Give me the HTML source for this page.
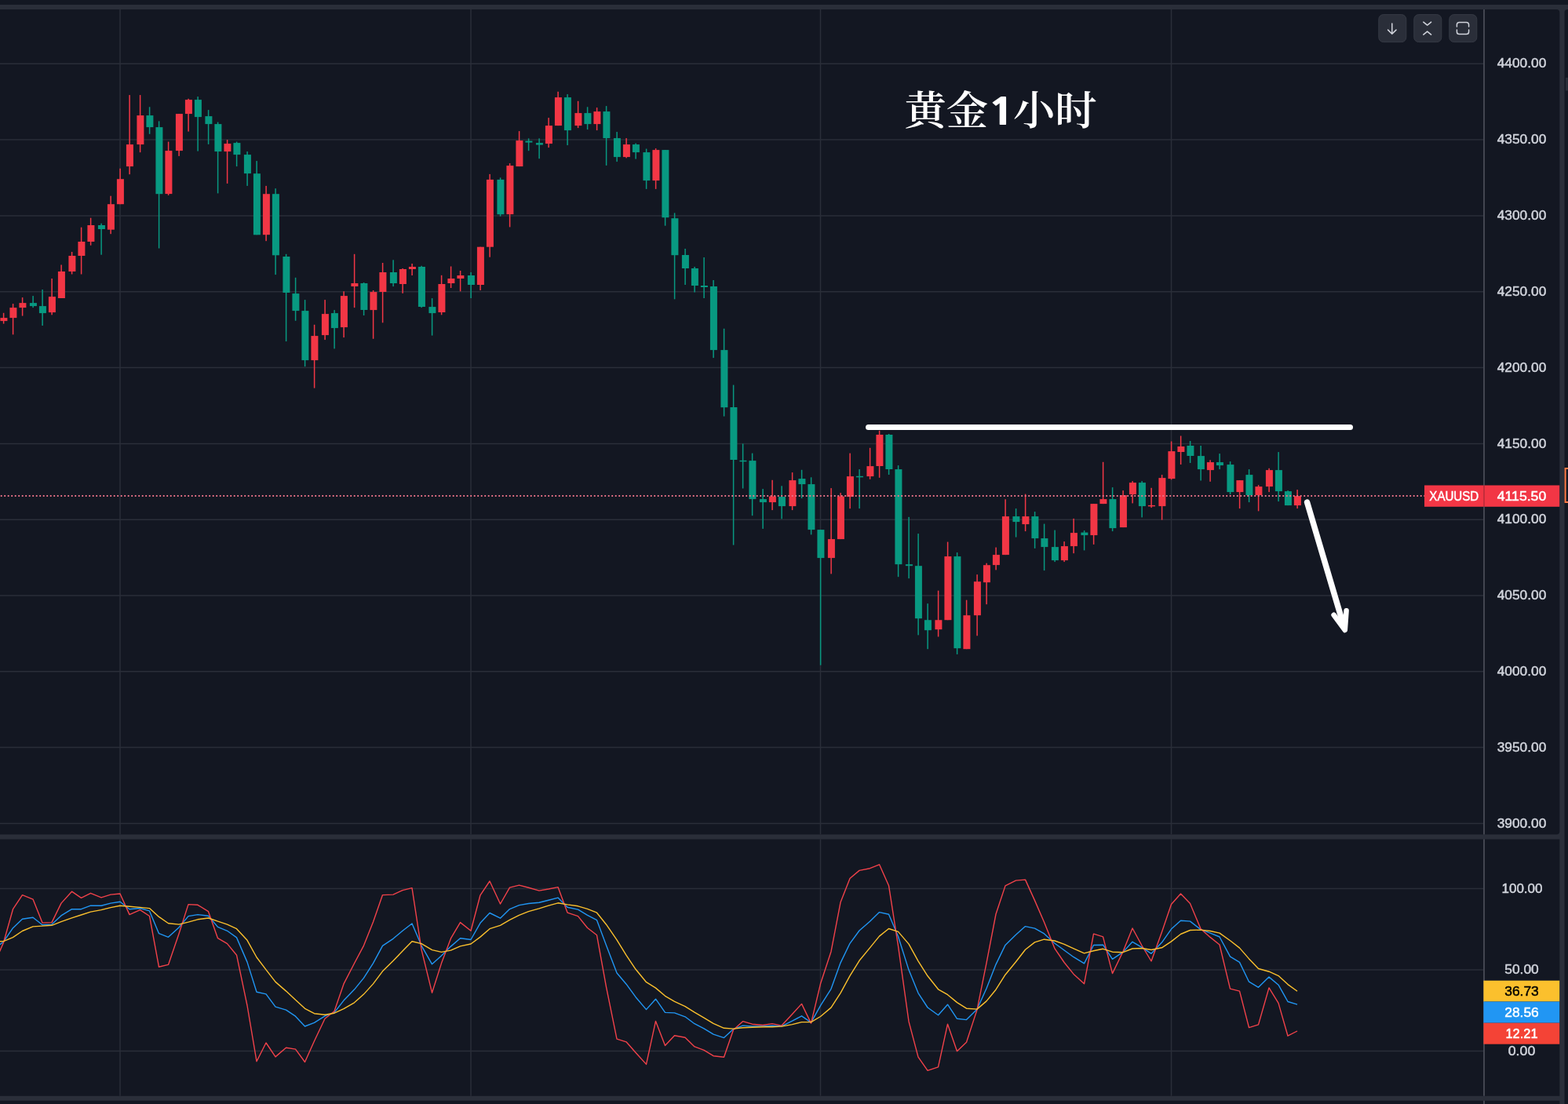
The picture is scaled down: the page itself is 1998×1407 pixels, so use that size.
<!DOCTYPE html>
<html lang="zh-CN"><head><meta charset="utf-8"><title>黄金1小时 XAUUSD</title>
<style>
html,body{margin:0;padding:0;background:#131722;overflow:hidden}
body{width:1998px;height:1407px;position:relative}
#chart{position:absolute;left:0;top:0;width:1998px;height:1407px;overflow:hidden;background:#131722}
svg{display:block;position:absolute;left:-20px;top:-20px;filter:blur(0.55px)}
.ax{font-family:"Liberation Sans",sans-serif;font-size:15.8px;fill:#d1d4dc;stroke:#d1d4dc;stroke-width:.45px;text-anchor:middle}
.w{fill:#fff;stroke:#fff}.k{fill:#000;stroke:#000}
.ttl{font-family:"Liberation Sans","Noto Serif CJK SC",serif;font-weight:600;font-size:53.33px;fill:#fff}
</style></head><body><div id="chart">
<svg width="2038" height="1447" viewBox="-20 -20 2038 1447">
<rect x="-20" y="-20" width="2038" height="1447" fill="#2a2e39"/>
<rect x="-20" y="-20" width="2038" height="26" fill="#131722"/>
<rect x="-30" y="12" width="2017.3" height="1051.6" rx="4" fill="#131722"/>
<rect x="-30" y="1069.6" width="2017.3" height="327.2" fill="#131722"/>
<rect x="-30" y="1402.8" width="2017.3" height="30" fill="#131722"/>
<rect x="1993.5" y="12" width="40" height="1430" rx="4" fill="#131722"/>
<g stroke="#2a2e39" stroke-width="1.5" fill="none">
<path d="M153.0 12V1063.6M153.0 1069.6V1396.8"/>
<path d="M600.0 12V1063.6M600.0 1069.6V1396.8"/>
<path d="M1045.5 12V1063.6M1045.5 1069.6V1396.8"/>
<path d="M1492.5 12V1063.6M1492.5 1069.6V1396.8"/>
<path d="M-5 81.3H1890"/>
<path d="M-5 178.1H1890"/>
<path d="M-5 274.9H1890"/>
<path d="M-5 371.7H1890"/>
<path d="M-5 468.5H1890"/>
<path d="M-5 565.4H1890"/>
<path d="M-5 662.2H1890"/>
<path d="M-5 759.0H1890"/>
<path d="M-5 855.8H1890"/>
<path d="M-5 952.6H1890"/>
<path d="M-5 1049.4H1890"/>
<path d="M-5 1132.4H1890"/>
<path d="M-5 1235.9H1890"/>
<path d="M-5 1339.5H1890"/>
</g>
<path d="M1891 12V1063.6M1891 1069.6V1396.8M1891 1402.8V1415" stroke="#434651" stroke-width="2" fill="none"/>
<g fill="#f23645">
<rect x="3.85" y="398.8" width="1.5" height="13.8"/>
<rect x="0.4" y="405.1" width="9.0" height="4.0"/>
<rect x="15.85" y="387.1" width="1.5" height="39.3"/>
<rect x="12.4" y="392.1" width="9.0" height="13.0"/>
<rect x="27.85" y="379.1" width="1.5" height="23.5"/>
<rect x="24.4" y="386.1" width="9.0" height="6.0"/>
<rect x="65.35" y="355.0" width="1.5" height="46.3"/>
<rect x="61.9" y="378.1" width="9.0" height="20.0"/>
<rect x="77.35" y="337.5" width="1.5" height="42.5"/>
<rect x="73.9" y="346.0" width="9.0" height="34.0"/>
<rect x="90.85" y="321.0" width="1.5" height="28.5"/>
<rect x="87.4" y="326.0" width="9.0" height="20.0"/>
<rect x="102.85" y="289.7" width="1.5" height="59.8"/>
<rect x="99.4" y="308.0" width="9.0" height="18.0"/>
<rect x="114.85" y="277.7" width="1.5" height="35.0"/>
<rect x="111.4" y="287.0" width="9.0" height="21.0"/>
<rect x="140.35" y="249.7" width="1.5" height="48.5"/>
<rect x="136.9" y="260.2" width="9.0" height="32.5"/>
<rect x="152.35" y="214.7" width="1.5" height="45.5"/>
<rect x="148.9" y="228.2" width="9.0" height="32.0"/>
<rect x="164.35" y="121.1" width="1.5" height="101.1"/>
<rect x="160.9" y="184.1" width="9.0" height="28.0"/>
<rect x="177.85" y="121.1" width="1.5" height="73.1"/>
<rect x="174.4" y="147.1" width="9.0" height="37.0"/>
<rect x="213.85" y="180.6" width="1.5" height="68.3"/>
<rect x="210.4" y="192.1" width="9.0" height="55.0"/>
<rect x="227.35" y="145.1" width="1.5" height="53.8"/>
<rect x="223.9" y="145.1" width="9.0" height="47.0"/>
<rect x="239.35" y="125.8" width="1.5" height="41.8"/>
<rect x="235.9" y="127.1" width="9.0" height="18.0"/>
<rect x="288.85" y="178.1" width="1.5" height="55.8"/>
<rect x="285.4" y="183.1" width="9.0" height="10.0"/>
<rect x="338.35" y="236.9" width="1.5" height="70.3"/>
<rect x="334.9" y="247.2" width="9.0" height="52.0"/>
<rect x="399.85" y="413.8" width="1.5" height="80.8"/>
<rect x="396.4" y="428.1" width="9.0" height="31.0"/>
<rect x="413.35" y="382.1" width="1.5" height="51.0"/>
<rect x="409.9" y="400.1" width="9.0" height="27.0"/>
<rect x="437.35" y="371.3" width="1.5" height="58.8"/>
<rect x="433.9" y="377.1" width="9.0" height="40.0"/>
<rect x="450.85" y="323.8" width="1.5" height="68.3"/>
<rect x="447.4" y="361.0" width="9.0" height="4.0"/>
<rect x="474.85" y="370.0" width="1.5" height="61.8"/>
<rect x="471.4" y="372.1" width="9.0" height="23.0"/>
<rect x="486.85" y="335.0" width="1.5" height="76.3"/>
<rect x="483.4" y="347.0" width="9.0" height="25.0"/>
<rect x="512.35" y="342.0" width="1.5" height="31.8"/>
<rect x="508.9" y="343.0" width="9.0" height="19.0"/>
<rect x="524.35" y="336.0" width="1.5" height="15.0"/>
<rect x="520.9" y="340.0" width="9.0" height="3.0"/>
<rect x="561.85" y="350.8" width="1.5" height="50.5"/>
<rect x="558.4" y="362.0" width="9.0" height="36.0"/>
<rect x="573.85" y="339.5" width="1.5" height="27.5"/>
<rect x="570.4" y="355.0" width="9.0" height="6.0"/>
<rect x="585.85" y="345.0" width="1.5" height="26.3"/>
<rect x="582.4" y="351.0" width="9.0" height="4.0"/>
<rect x="611.35" y="314.7" width="1.5" height="55.3"/>
<rect x="607.9" y="314.7" width="9.0" height="48.3"/>
<rect x="623.35" y="221.9" width="1.5" height="105.8"/>
<rect x="619.9" y="228.9" width="9.0" height="85.8"/>
<rect x="648.85" y="208.1" width="1.5" height="81.3"/>
<rect x="645.4" y="211.1" width="9.0" height="62.0"/>
<rect x="660.85" y="167.1" width="1.5" height="45.0"/>
<rect x="657.4" y="179.1" width="9.0" height="33.0"/>
<rect x="698.35" y="150.1" width="1.5" height="38.0"/>
<rect x="694.9" y="160.1" width="9.0" height="23.0"/>
<rect x="710.35" y="116.8" width="1.5" height="43.3"/>
<rect x="706.9" y="124.1" width="9.0" height="36.0"/>
<rect x="735.85" y="128.8" width="1.5" height="34.3"/>
<rect x="732.4" y="144.1" width="9.0" height="16.0"/>
<rect x="759.85" y="137.1" width="1.5" height="29.0"/>
<rect x="756.4" y="142.1" width="9.0" height="16.0"/>
<rect x="797.35" y="176.1" width="1.5" height="25.3"/>
<rect x="793.9" y="184.1" width="9.0" height="16.0"/>
<rect x="834.85" y="189.1" width="1.5" height="51.8"/>
<rect x="831.4" y="191.1" width="9.0" height="39.0"/>
<rect x="983.35" y="611.8" width="1.5" height="38.3"/>
<rect x="979.9" y="632.6" width="9.0" height="7.5"/>
<rect x="1008.85" y="602.1" width="1.5" height="48.0"/>
<rect x="1005.4" y="612.1" width="9.0" height="33.0"/>
<rect x="1058.35" y="622.1" width="1.5" height="109.3"/>
<rect x="1054.9" y="687.1" width="9.0" height="24.0"/>
<rect x="1070.35" y="628.1" width="1.5" height="59.0"/>
<rect x="1066.9" y="632.6" width="9.0" height="54.5"/>
<rect x="1082.35" y="577.6" width="1.5" height="70.6"/>
<rect x="1078.9" y="607.1" width="9.0" height="26.0"/>
<rect x="1107.85" y="570.8" width="1.5" height="40.0"/>
<rect x="1104.4" y="594.1" width="9.0" height="13.0"/>
<rect x="1119.85" y="548.8" width="1.5" height="60.0"/>
<rect x="1116.4" y="554.0" width="9.0" height="40.0"/>
<rect x="1194.85" y="752.7" width="1.5" height="58.8"/>
<rect x="1191.4" y="790.2" width="9.0" height="12.0"/>
<rect x="1206.85" y="690.6" width="1.5" height="99.6"/>
<rect x="1203.4" y="709.1" width="9.0" height="81.1"/>
<rect x="1230.85" y="764.7" width="1.5" height="62.5"/>
<rect x="1227.4" y="784.2" width="9.0" height="43.0"/>
<rect x="1244.35" y="732.2" width="1.5" height="78.1"/>
<rect x="1240.9" y="741.2" width="9.0" height="43.0"/>
<rect x="1256.35" y="717.7" width="1.5" height="52.5"/>
<rect x="1252.9" y="720.2" width="9.0" height="22.0"/>
<rect x="1268.35" y="697.6" width="1.5" height="28.8"/>
<rect x="1264.9" y="707.1" width="9.0" height="13.0"/>
<rect x="1280.35" y="636.3" width="1.5" height="70.8"/>
<rect x="1276.9" y="658.1" width="9.0" height="49.0"/>
<rect x="1305.85" y="629.6" width="1.5" height="47.5"/>
<rect x="1302.4" y="658.1" width="9.0" height="10.0"/>
<rect x="1355.35" y="690.1" width="1.5" height="26.0"/>
<rect x="1351.9" y="696.1" width="9.0" height="18.0"/>
<rect x="1367.35" y="660.9" width="1.5" height="44.3"/>
<rect x="1363.9" y="679.1" width="9.0" height="17.0"/>
<rect x="1392.85" y="642.1" width="1.5" height="51.8"/>
<rect x="1389.4" y="642.1" width="9.0" height="40.0"/>
<rect x="1404.85" y="588.8" width="1.5" height="53.3"/>
<rect x="1401.4" y="636.1" width="9.0" height="6.0"/>
<rect x="1430.35" y="625.1" width="1.5" height="47.0"/>
<rect x="1426.9" y="631.1" width="9.0" height="41.0"/>
<rect x="1442.35" y="613.1" width="1.5" height="28.3"/>
<rect x="1438.9" y="615.1" width="9.0" height="15.0"/>
<rect x="1466.35" y="621.8" width="1.5" height="25.3"/>
<rect x="1462.9" y="643.9" width="9.0" height="1.5"/>
<rect x="1479.85" y="605.1" width="1.5" height="57.5"/>
<rect x="1476.4" y="609.1" width="9.0" height="36.0"/>
<rect x="1491.85" y="562.5" width="1.5" height="48.8"/>
<rect x="1488.4" y="575.1" width="9.0" height="35.0"/>
<rect x="1503.85" y="555.5" width="1.5" height="36.5"/>
<rect x="1500.4" y="569.0" width="9.0" height="7.0"/>
<rect x="1541.35" y="586.3" width="1.5" height="27.5"/>
<rect x="1537.9" y="589.1" width="9.0" height="10.0"/>
<rect x="1578.85" y="612.1" width="1.5" height="36.0"/>
<rect x="1575.4" y="612.1" width="9.0" height="15.0"/>
<rect x="1602.85" y="618.1" width="1.5" height="33.3"/>
<rect x="1599.4" y="620.1" width="9.0" height="11.0"/>
<rect x="1616.35" y="596.8" width="1.5" height="30.3"/>
<rect x="1612.9" y="599.1" width="9.0" height="21.0"/>
<rect x="1652.35" y="624.1" width="1.5" height="24.0"/>
<rect x="1648.9" y="632.1" width="9.0" height="12.0"/>
</g>
<g fill="#089981">
<rect x="41.35" y="377.1" width="1.5" height="15.0"/>
<rect x="37.9" y="386.1" width="9.0" height="4.0"/>
<rect x="53.35" y="369.0" width="1.5" height="46.0"/>
<rect x="49.9" y="390.1" width="9.0" height="9.0"/>
<rect x="128.35" y="284.7" width="1.5" height="40.0"/>
<rect x="124.9" y="287.0" width="9.0" height="5.0"/>
<rect x="189.85" y="136.3" width="1.5" height="34.5"/>
<rect x="186.4" y="147.1" width="9.0" height="15.0"/>
<rect x="201.85" y="154.4" width="1.5" height="162.1"/>
<rect x="198.4" y="162.1" width="9.0" height="85.1"/>
<rect x="251.35" y="123.1" width="1.5" height="69.5"/>
<rect x="247.9" y="127.1" width="9.0" height="22.0"/>
<rect x="264.85" y="140.1" width="1.5" height="43.8"/>
<rect x="261.4" y="148.1" width="9.0" height="10.0"/>
<rect x="276.85" y="155.6" width="1.5" height="90.8"/>
<rect x="273.4" y="158.1" width="9.0" height="35.0"/>
<rect x="300.85" y="180.6" width="1.5" height="31.5"/>
<rect x="297.4" y="182.1" width="9.0" height="15.0"/>
<rect x="314.35" y="193.1" width="1.5" height="43.8"/>
<rect x="310.9" y="197.1" width="9.0" height="24.0"/>
<rect x="326.35" y="205.1" width="1.5" height="94.1"/>
<rect x="322.9" y="221.2" width="9.0" height="78.1"/>
<rect x="350.35" y="240.2" width="1.5" height="109.9"/>
<rect x="346.9" y="247.2" width="9.0" height="78.1"/>
<rect x="363.85" y="323.8" width="1.5" height="111.3"/>
<rect x="360.4" y="327.0" width="9.0" height="46.0"/>
<rect x="375.85" y="353.8" width="1.5" height="55.0"/>
<rect x="372.4" y="374.1" width="9.0" height="22.0"/>
<rect x="387.85" y="382.1" width="1.5" height="85.1"/>
<rect x="384.4" y="396.1" width="9.0" height="63.0"/>
<rect x="425.35" y="395.1" width="1.5" height="49.3"/>
<rect x="421.9" y="399.1" width="9.0" height="19.0"/>
<rect x="462.85" y="360.0" width="1.5" height="42.0"/>
<rect x="459.4" y="361.0" width="9.0" height="34.0"/>
<rect x="500.35" y="331.3" width="1.5" height="33.8"/>
<rect x="496.9" y="347.0" width="9.0" height="14.0"/>
<rect x="536.35" y="338.8" width="1.5" height="53.3"/>
<rect x="532.9" y="340.0" width="9.0" height="51.0"/>
<rect x="549.85" y="380.1" width="1.5" height="47.5"/>
<rect x="546.4" y="391.1" width="9.0" height="8.0"/>
<rect x="599.35" y="347.0" width="1.5" height="33.0"/>
<rect x="595.9" y="351.0" width="9.0" height="12.0"/>
<rect x="636.85" y="226.4" width="1.5" height="49.3"/>
<rect x="633.4" y="228.9" width="9.0" height="44.3"/>
<rect x="672.85" y="176.4" width="1.5" height="15.8"/>
<rect x="669.4" y="179.6" width="9.0" height="2.0"/>
<rect x="686.35" y="176.4" width="1.5" height="25.8"/>
<rect x="682.9" y="182.1" width="9.0" height="2.5"/>
<rect x="722.35" y="120.1" width="1.5" height="65.0"/>
<rect x="718.9" y="124.1" width="9.0" height="42.0"/>
<rect x="747.85" y="136.3" width="1.5" height="28.8"/>
<rect x="744.4" y="144.1" width="9.0" height="14.0"/>
<rect x="771.85" y="135.1" width="1.5" height="75.8"/>
<rect x="768.4" y="142.1" width="9.0" height="34.0"/>
<rect x="785.35" y="168.1" width="1.5" height="38.0"/>
<rect x="781.9" y="176.1" width="9.0" height="24.0"/>
<rect x="809.35" y="182.6" width="1.5" height="20.0"/>
<rect x="805.9" y="184.1" width="9.0" height="10.0"/>
<rect x="822.85" y="189.6" width="1.5" height="51.3"/>
<rect x="819.4" y="194.1" width="9.0" height="36.0"/>
<rect x="846.85" y="191.1" width="1.5" height="96.6"/>
<rect x="843.4" y="191.1" width="9.0" height="86.1"/>
<rect x="858.85" y="271.4" width="1.5" height="109.9"/>
<rect x="855.4" y="278.2" width="9.0" height="47.0"/>
<rect x="872.35" y="317.0" width="1.5" height="46.0"/>
<rect x="868.9" y="325.0" width="9.0" height="17.0"/>
<rect x="884.35" y="340.0" width="1.5" height="32.5"/>
<rect x="880.9" y="342.0" width="9.0" height="22.0"/>
<rect x="896.35" y="328.0" width="1.5" height="52.0"/>
<rect x="892.9" y="364.0" width="9.0" height="2.0"/>
<rect x="908.35" y="357.0" width="1.5" height="99.1"/>
<rect x="904.9" y="365.0" width="9.0" height="81.1"/>
<rect x="921.85" y="418.8" width="1.5" height="111.8"/>
<rect x="918.4" y="446.1" width="9.0" height="73.1"/>
<rect x="933.85" y="490.6" width="1.5" height="204.0"/>
<rect x="930.4" y="519.0" width="9.0" height="67.0"/>
<rect x="945.85" y="565.5" width="1.5" height="57.0"/>
<rect x="942.4" y="586.8" width="9.0" height="1.5"/>
<rect x="957.85" y="577.6" width="1.5" height="79.6"/>
<rect x="954.4" y="587.1" width="9.0" height="49.0"/>
<rect x="971.35" y="623.1" width="1.5" height="50.8"/>
<rect x="967.9" y="636.1" width="9.0" height="4.0"/>
<rect x="995.35" y="619.3" width="1.5" height="42.0"/>
<rect x="991.9" y="633.1" width="9.0" height="12.0"/>
<rect x="1020.85" y="598.8" width="1.5" height="36.3"/>
<rect x="1017.4" y="610.1" width="9.0" height="7.0"/>
<rect x="1032.85" y="608.3" width="1.5" height="73.1"/>
<rect x="1029.4" y="617.1" width="9.0" height="58.0"/>
<rect x="1044.85" y="675.1" width="1.5" height="172.6"/>
<rect x="1041.4" y="675.1" width="9.0" height="36.0"/>
<rect x="1094.35" y="598.1" width="1.5" height="50.0"/>
<rect x="1090.9" y="606.8" width="9.0" height="1.5"/>
<rect x="1131.85" y="553.0" width="1.5" height="52.0"/>
<rect x="1128.4" y="554.0" width="9.0" height="44.0"/>
<rect x="1143.85" y="593.1" width="1.5" height="142.1"/>
<rect x="1140.4" y="598.1" width="9.0" height="121.1"/>
<rect x="1157.35" y="658.9" width="1.5" height="78.3"/>
<rect x="1153.9" y="719.2" width="9.0" height="2.0"/>
<rect x="1169.35" y="680.1" width="1.5" height="129.3"/>
<rect x="1165.9" y="721.2" width="9.0" height="67.0"/>
<rect x="1181.35" y="769.2" width="1.5" height="58.0"/>
<rect x="1177.9" y="790.2" width="9.0" height="13.0"/>
<rect x="1218.85" y="704.1" width="1.5" height="129.8"/>
<rect x="1215.4" y="709.1" width="9.0" height="117.1"/>
<rect x="1293.85" y="648.1" width="1.5" height="36.5"/>
<rect x="1290.4" y="658.1" width="9.0" height="7.0"/>
<rect x="1317.85" y="652.1" width="1.5" height="46.8"/>
<rect x="1314.4" y="658.1" width="9.0" height="28.0"/>
<rect x="1329.85" y="667.6" width="1.5" height="59.5"/>
<rect x="1326.4" y="686.1" width="9.0" height="11.0"/>
<rect x="1343.35" y="675.6" width="1.5" height="40.5"/>
<rect x="1339.9" y="697.1" width="9.0" height="17.0"/>
<rect x="1380.85" y="676.1" width="1.5" height="25.3"/>
<rect x="1377.4" y="678.6" width="9.0" height="3.5"/>
<rect x="1416.85" y="621.1" width="1.5" height="56.0"/>
<rect x="1413.4" y="636.1" width="9.0" height="37.0"/>
<rect x="1454.35" y="613.1" width="1.5" height="46.3"/>
<rect x="1450.9" y="615.1" width="9.0" height="30.0"/>
<rect x="1515.85" y="562.0" width="1.5" height="28.0"/>
<rect x="1512.4" y="568.0" width="9.0" height="13.0"/>
<rect x="1529.35" y="568.0" width="1.5" height="44.5"/>
<rect x="1525.9" y="581.1" width="9.0" height="17.0"/>
<rect x="1553.35" y="578.1" width="1.5" height="20.0"/>
<rect x="1549.9" y="589.1" width="9.0" height="4.0"/>
<rect x="1566.85" y="588.1" width="1.5" height="42.0"/>
<rect x="1563.4" y="592.1" width="9.0" height="35.0"/>
<rect x="1590.85" y="598.1" width="1.5" height="42.0"/>
<rect x="1587.4" y="605.1" width="9.0" height="26.0"/>
<rect x="1628.35" y="576.1" width="1.5" height="63.0"/>
<rect x="1624.9" y="599.1" width="9.0" height="27.0"/>
<rect x="1640.35" y="625.1" width="1.5" height="19.0"/>
<rect x="1636.9" y="626.1" width="9.0" height="18.0"/>
</g>
<path d="M-3.7 632H1815" stroke="#ec7389" stroke-width="1.8" stroke-dasharray="1.8 2.7" fill="none"/>
<path d="M-1 1204.4L4.5 1200.2L16.5 1182.7L28.5 1171.2L42.0 1169.3L54.0 1178.8L66.0 1178.1L78.0 1166.9L91.5 1158.6L103.5 1158.7L115.5 1154.2L129.0 1154.3L141.0 1151.1L153.0 1149.2L165.0 1158.7L178.5 1157.5L190.5 1160.9L202.5 1189.7L214.5 1194.3L228.0 1182.0L240.0 1167.6L252.0 1165.6L265.5 1167.3L277.5 1181.4L289.5 1186.3L301.5 1194.9L315.0 1226.1L327.0 1264.3L339.0 1266.9L351.0 1283.2L364.5 1287.2L376.5 1295.2L388.5 1308.0L400.5 1303.4L414.0 1294.9L426.0 1290.4L438.0 1275.1L451.5 1261.1L463.5 1246.4L475.5 1227.6L487.5 1205.4L501.0 1196.3L513.0 1186.3L525.0 1177.0L537.0 1205.1L550.5 1228.8L562.5 1218.1L574.5 1206.1L586.5 1195.8L600.0 1197.5L612.0 1176.3L624.0 1163.5L637.5 1170.2L649.5 1158.6L661.5 1153.6L673.5 1151.5L687.0 1150.3L699.0 1147.2L711.0 1144.1L723.0 1156.3L736.5 1159.1L748.5 1166.4L760.5 1172.7L772.5 1204.7L786.0 1240.0L798.0 1254.2L810.0 1270.7L823.5 1286.6L835.5 1273.2L847.5 1290.4L859.5 1290.9L873.0 1295.8L885.0 1304.7L897.0 1310.8L909.0 1318.2L922.5 1322.6L934.5 1311.6L946.5 1307.1L958.5 1308.0L972.0 1308.0L984.0 1307.3L996.0 1307.8L1009.5 1301.2L1021.5 1294.8L1033.5 1303.1L1045.5 1281.6L1059.0 1260.3L1071.0 1227.1L1083.0 1202.3L1095.0 1186.0L1108.5 1174.2L1120.5 1162.6L1132.5 1165.2L1144.5 1193.5L1158.0 1236.1L1170.0 1265.6L1182.0 1284.0L1195.5 1293.8L1207.5 1280.2L1219.5 1298.3L1231.5 1299.6L1245.0 1286.3L1257.0 1259.7L1269.0 1229.1L1281.0 1204.4L1294.5 1191.2L1306.5 1180.6L1318.5 1183.1L1330.5 1189.9L1344.0 1202.3L1356.0 1211.0L1368.0 1219.7L1381.5 1227.9L1393.5 1204.5L1405.5 1204.2L1417.5 1222.3L1431.0 1213.4L1443.0 1200.3L1455.0 1207.3L1467.0 1215.3L1480.5 1201.1L1492.5 1184.1L1504.5 1173.3L1516.5 1174.1L1530.0 1184.6L1542.0 1189.1L1554.0 1194.0L1567.5 1219.1L1579.5 1226.4L1591.5 1251.2L1603.5 1258.3L1617.0 1245.1L1629.0 1255.2L1641.0 1276.5L1653.0 1280.1" stroke="#2196f3" stroke-width="1.4" fill="none" stroke-linejoin="round"/>
<path d="M-1 1213.9L4.5 1201.3L16.5 1158.7L28.5 1140.6L42.0 1146.1L54.0 1176.1L66.0 1175.6L78.0 1151.1L91.5 1136.2L103.5 1144.3L115.5 1138.3L129.0 1143.8L141.0 1140.1L153.0 1139.0L165.0 1165.6L178.5 1159.6L190.5 1167.5L202.5 1232.3L214.5 1229.4L228.0 1189.9L240.0 1152.6L252.0 1153.3L265.5 1161.7L277.5 1195.7L289.5 1202.6L301.5 1217.2L315.0 1281.5L327.0 1352.7L339.0 1329.0L351.0 1346.9L364.5 1335.2L376.5 1337.1L388.5 1353.5L400.5 1326.7L414.0 1298.2L426.0 1288.8L438.0 1253.9L451.5 1227.7L463.5 1205.1L475.5 1175.1L487.5 1140.6L501.0 1140.1L513.0 1134.6L525.0 1131.6L537.0 1210.1L550.5 1265.2L562.5 1227.6L574.5 1195.9L586.5 1175.6L600.0 1186.3L612.0 1140.8L624.0 1123.0L637.5 1152.0L649.5 1131.1L661.5 1128.1L673.5 1131.3L687.0 1135.1L699.0 1133.0L711.0 1130.6L723.0 1163.1L736.5 1167.6L748.5 1182.5L760.5 1191.8L772.5 1257.9L786.0 1324.1L798.0 1327.8L810.0 1341.5L823.5 1356.4L835.5 1301.4L847.5 1332.6L859.5 1319.7L873.0 1322.2L885.0 1333.9L897.0 1338.4L909.0 1345.7L922.5 1347.2L934.5 1312.6L946.5 1301.7L958.5 1305.2L972.0 1306.5L984.0 1304.6L996.0 1307.1L1009.5 1292.5L1021.5 1279.4L1033.5 1304.1L1045.5 1253.8L1059.0 1212.7L1071.0 1150.1L1083.0 1119.5L1095.0 1109.4L1108.5 1106.7L1120.5 1101.8L1132.5 1128.7L1144.5 1205.6L1158.0 1301.9L1170.0 1347.1L1182.0 1364.4L1195.5 1359.8L1207.5 1305.2L1219.5 1339.7L1231.5 1328.2L1245.0 1286.9L1257.0 1227.4L1269.0 1165.0L1281.0 1128.9L1294.5 1122.1L1306.5 1121.1L1318.5 1147.6L1330.5 1175.2L1344.0 1208.9L1356.0 1226.5L1368.0 1241.4L1381.5 1253.8L1393.5 1190.1L1405.5 1193.8L1417.5 1240.6L1431.0 1212.8L1443.0 1183.0L1455.0 1205.0L1467.0 1225.0L1480.5 1187.7L1492.5 1152.5L1504.5 1139.0L1516.5 1151.4L1530.0 1183.8L1542.0 1194.4L1554.0 1204.0L1567.5 1260.1L1579.5 1263.1L1591.5 1309.6L1603.5 1305.9L1617.0 1258.9L1629.0 1278.4L1641.0 1320.2L1653.0 1314.0" stroke="#f1424a" stroke-width="1.4" fill="none" stroke-linejoin="round"/>
<path d="M-1 1199.7L4.5 1199.6L16.5 1194.6L28.5 1186.5L42.0 1180.9L54.0 1180.1L66.0 1179.3L78.0 1174.7L91.5 1169.9L103.5 1166.0L115.5 1162.1L129.0 1159.6L141.0 1156.6L153.0 1154.2L165.0 1155.2L178.5 1156.4L190.5 1157.6L202.5 1168.4L214.5 1176.8L228.0 1178.1L240.0 1175.1L252.0 1171.8L265.5 1170.0L277.5 1174.2L289.5 1178.1L301.5 1183.7L315.0 1198.3L327.0 1220.0L339.0 1235.8L351.0 1251.4L364.5 1263.1L376.5 1274.2L388.5 1285.3L400.5 1291.7L414.0 1293.2L426.0 1291.2L438.0 1285.7L451.5 1277.8L463.5 1267.1L475.5 1253.9L487.5 1237.8L501.0 1224.4L513.0 1212.1L525.0 1199.7L537.0 1202.6L550.5 1210.6L562.5 1213.4L574.5 1211.1L586.5 1205.9L600.0 1203.0L612.0 1194.1L624.0 1183.7L637.5 1179.3L649.5 1172.3L661.5 1166.3L673.5 1161.6L687.0 1157.9L699.0 1154.2L711.0 1150.8L723.0 1152.9L736.5 1154.8L748.5 1158.4L760.5 1163.2L772.5 1178.2L786.0 1197.9L798.0 1217.4L810.0 1235.3L823.5 1251.7L835.5 1259.1L847.5 1269.3L859.5 1276.4L873.0 1282.6L885.0 1290.1L897.0 1297.1L909.0 1304.4L922.5 1310.3L934.5 1311.1L946.5 1309.8L958.5 1309.3L972.0 1308.8L984.0 1308.7L996.0 1308.1L1009.5 1305.6L1021.5 1302.6L1033.5 1302.6L1045.5 1295.5L1059.0 1284.1L1071.0 1265.6L1083.0 1243.7L1095.0 1224.3L1108.5 1207.9L1120.5 1193.1L1132.5 1183.5L1144.5 1187.4L1158.0 1203.1L1170.0 1224.8L1182.0 1243.8L1195.5 1260.8L1207.5 1267.7L1219.5 1277.6L1231.5 1285.2L1245.0 1286.1L1257.0 1275.9L1269.0 1261.2L1281.0 1242.2L1294.5 1225.7L1306.5 1210.3L1318.5 1200.9L1330.5 1197.2L1344.0 1199.0L1356.0 1203.3L1368.0 1208.8L1381.5 1214.9L1393.5 1211.7L1405.5 1209.3L1417.5 1213.2L1431.0 1213.7L1443.0 1209.0L1455.0 1208.5L1467.0 1210.5L1480.5 1207.8L1492.5 1199.9L1504.5 1190.5L1516.5 1185.5L1530.0 1185.1L1542.0 1186.5L1554.0 1189.1L1567.5 1198.7L1579.5 1208.1L1591.5 1221.9L1603.5 1234.5L1617.0 1238.2L1629.0 1243.6L1641.0 1254.6L1653.0 1263.2" stroke="#fbc02d" stroke-width="1.4" fill="none" stroke-linejoin="round"/>
<path d="M1106.5 544.5H1720.5" stroke="#fff" stroke-width="7" stroke-linecap="round" fill="none"/>
<path d="M1665.6 640.2L1712.6 799" stroke="#fff" stroke-width="7.5" stroke-linecap="round" fill="none"/>
<path d="M1699.6 783.8L1713.8 803L1715.6 778.2" stroke="#fff" stroke-width="6.5" stroke-linecap="round" stroke-linejoin="round" fill="none"/>
<g transform="translate(0,159.2) scale(1,0.95)"><text class="ttl" x="1152.5" y="0">黄金<tspan x="1258.2" dy="-0.3" textLength="36.8" lengthAdjust="spacingAndGlyphs" style="font-family:NanumGothic,'Liberation Sans',sans-serif;font-weight:800;font-size:49.8px">1</tspan><tspan x="1291" dy="0.3">小时</tspan></text></g>
<rect x="1756.8" y="18.6" width="35" height="35" rx="6" fill="#2a2e39" stroke="#363a45" stroke-width="1"/>
<rect x="1801.8" y="18.6" width="35" height="35" rx="6" fill="#2a2e39" stroke="#363a45" stroke-width="1"/>
<rect x="1846.8" y="18.6" width="35" height="35" rx="6" fill="#2a2e39" stroke="#363a45" stroke-width="1"/>
<g stroke="#d1d4dc" stroke-width="1.5" fill="none" stroke-linecap="round" stroke-linejoin="round">
<path d="M1773.8 29.9V43.2M1768.6 38.1L1773.8 43.3L1779 38.1"/>
<path d="M1813.8 28.1L1818.7 32.1L1823.6 28.1M1813.8 44.1L1818.7 40.1L1823.6 44.1"/>
<path d="M1856.4 33.9V31.6Q1856.4 28.5 1859.5 28.5H1868.5Q1871.6 28.5 1871.6 31.6V33.9M1856.4 38.1V40.4Q1856.4 43.5 1859.5 43.5H1868.5Q1871.6 43.5 1871.6 40.4V38.1"/>
</g>
<text class="ax" x="1939" y="86.4" textLength="62.5" lengthAdjust="spacingAndGlyphs">4400.00</text>
<text class="ax" x="1939" y="183.2" textLength="62.5" lengthAdjust="spacingAndGlyphs">4350.00</text>
<text class="ax" x="1939" y="280.0" textLength="62.5" lengthAdjust="spacingAndGlyphs">4300.00</text>
<text class="ax" x="1939" y="376.8" textLength="62.5" lengthAdjust="spacingAndGlyphs">4250.00</text>
<text class="ax" x="1939" y="473.6" textLength="62.5" lengthAdjust="spacingAndGlyphs">4200.00</text>
<text class="ax" x="1939" y="570.5" textLength="62.5" lengthAdjust="spacingAndGlyphs">4150.00</text>
<text class="ax" x="1939" y="667.3" textLength="62.5" lengthAdjust="spacingAndGlyphs">4100.00</text>
<text class="ax" x="1939" y="764.1" textLength="62.5" lengthAdjust="spacingAndGlyphs">4050.00</text>
<text class="ax" x="1939" y="860.9" textLength="62.5" lengthAdjust="spacingAndGlyphs">4000.00</text>
<text class="ax" x="1939" y="957.7" textLength="62.5" lengthAdjust="spacingAndGlyphs">3950.00</text>
<text class="ax" x="1939" y="1054.5" textLength="62.5" lengthAdjust="spacingAndGlyphs">3900.00</text>
<text class="ax" x="1939.5" y="1137.8" textLength="52" lengthAdjust="spacingAndGlyphs">100.00</text>
<text class="ax" x="1939" y="1241.3" textLength="43.5" lengthAdjust="spacingAndGlyphs">50.00</text>
<text class="ax" x="1939" y="1344.9" textLength="34.6" lengthAdjust="spacingAndGlyphs">0.00</text>
<rect x="1815" y="618.5" width="75" height="27.3" fill="#f23645"/>
<rect x="1892" y="618.5" width="95.2" height="27.3" fill="#f23645"/>
<rect x="1890" y="618.5" width="2" height="27.3" fill="#c42d3b"/>
<text class="ax w" x="1852.8" y="638" textLength="63" lengthAdjust="spacingAndGlyphs">XAUUSD</text>
<text class="ax w" x="1939" y="638" textLength="62.5" lengthAdjust="spacingAndGlyphs">4115.50</text>
<rect x="1890.4" y="1249.7" width="96.8" height="26.8" fill="#fbc02d"/>
<rect x="1890.4" y="1276.5" width="96.8" height="27.2" fill="#2196f3"/>
<rect x="1890.4" y="1303.7" width="96.8" height="27" fill="#f44336"/>
<text class="ax k" x="1939" y="1269" textLength="43.5" lengthAdjust="spacingAndGlyphs">36.73</text>
<text class="ax w" x="1939" y="1296" textLength="43.5" lengthAdjust="spacingAndGlyphs">28.56</text>
<text class="ax w" x="1939" y="1323.2" textLength="41" lengthAdjust="spacingAndGlyphs">12.21</text>
<rect x="1994.6" y="597" width="12" height="43" fill="none" stroke="#ff7a45" stroke-width="2"/>
<rect x="1995" y="99" width="12" height="16.5" fill="#2a2e39"/>
</svg></div></body></html>
